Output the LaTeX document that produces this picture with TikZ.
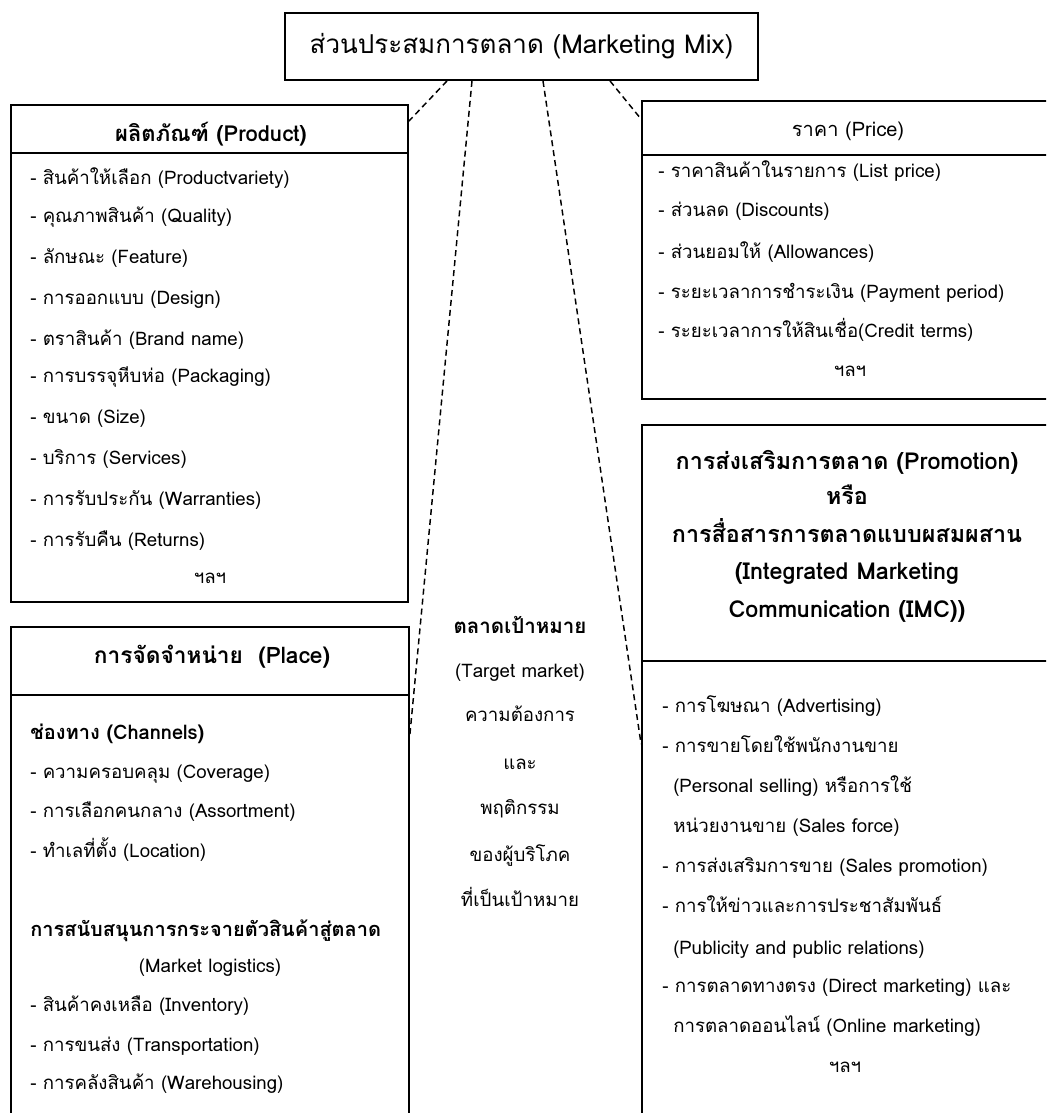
\documentclass[tikz,border=0pt]{standalone}
\usepackage{fontspec}
\setmainfont[Script=Thai]{Loma}
\usetikzlibrary{fit}

\newcommand{\pxu}{0.75pt}

\tikzset{
  box/.style={draw=black, line width=1.4pt, inner sep=0pt, fill=none},
  divider/.style={draw=black, line width=1.4pt},
  link/.style={draw=black, line width=1.1pt, dash pattern=on 4.5pt off 3pt},
  item/.style={anchor=west, inner sep=0pt, text height=1.6ex, text depth=0.4ex, font=\fontsize{14}{16}\selectfont},
  itemc/.style={item, anchor=center},
  head/.style={anchor=center, inner sep=0pt, text height=1.6ex, text depth=0.4ex, font=\fontsize{17.5}{20}\selectfont\bfseries},
  subhead/.style={item, font=\fontsize{15}{17}\selectfont\bfseries},
}

\begin{document}
\begin{tikzpicture}[x=0.75pt, y=-0.75pt]
\useasboundingbox (0,0) rectangle (1046,1113);
\clip (0,0) rectangle (1046,1113);
\fill[white] (0,0) rectangle (1046,1113);

% central title box
\node[box, minimum width={473*\pxu}, minimum height={67*\pxu},
      font=\fontsize{19.5}{22}\selectfont] (mix) at (521.5,46.5)
      {ส่วนประสมการตลาด (Marketing Mix)};

% the four P boxes (right and bottom ones run off the page)
\node[box, fit={(11,105) (408,602)}] (product) {};
\node[box, fit={(642,101) (1070,399)}] (price) {};
\node[box, fit={(642,425) (1070,1130)}] (promo) {};
\node[box, fit={(11,627) (409,1130)}] (place) {};

% header dividers
\draw[divider] (11,153) -- (408,153);
\draw[divider] (642,155) -- (1070,155);
\draw[divider] (642,661) -- (1070,661);
\draw[divider] (11,695) -- (409,695);

% dashed connectors from the marketing mix
\draw[link] ([xshift={-74.5*\pxu}]mix.south) -- ([yshift={-17*\pxu}]product.north east);
\draw[link] ([xshift={-49.5*\pxu}]mix.south) -- ([yshift={-108*\pxu}]place.north east);
\draw[link] ([xshift={21.5*\pxu}]mix.south) -- ([yshift={-320*\pxu}]promo.north west);
\draw[link] ([xshift={88.5*\pxu}]mix.south) -- ([yshift={-19*\pxu}]price.north west);

% Product
\node[head, font=\fontsize{16.5}{19}\selectfont\bfseries] (prodT) at (211,137) {ผลิตภัณฑ์ (Product)};
\node[item] (pr1) at (30,180) {- สินค้าให้เลือก (Productvariety)};
\node[item] (pr2) at (30,218) {- คุณภาพสินค้า (Quality)};
\node[item] (pr3) at (30,259) {- ลักษณะ (Feature)};
\node[item] (pr4) at (30,300) {- การออกแบบ (Design)};
\node[item] (pr5) at (30,341) {- ตราสินค้า (Brand name)};
\node[item] (pr6) at (30,378) {- การบรรจุหีบห่อ (Packaging)};
\node[item] (pr7) at (30,419) {- ขนาด (Size)};
\node[item] (pr8) at (30,460) {- บริการ (Services)};
\node[item] (pr9) at (30,501) {- การรับประกัน (Warranties)};
\node[item] (pr10) at (30,542) {- การรับคืน (Returns)};
\node[itemc] (prEtc) at (210,579) {ฯลฯ};

% Price
\node[head, font=\fontsize{15}{17}\selectfont] (priceT) at (848,132) {ราคา (Price)};
\node[item] (pc1) at (658,173) {- ราคาสินค้าในรายการ (List price)};
\node[item] (pc2) at (658,212) {- ส่วนลด (Discounts)};
\node[item] (pc3) at (658,254) {- ส่วนยอมให้ (Allowances)};
\node[item] (pc4) at (658,294) {- ระยะเวลาการชำระเงิน (Payment period)};
\node[item] (pc5) at (658,333) {- ระยะเวลาการให้สินเชื่อ(Credit terms)};
\node[itemc] (pcEtc) at (850,372) {ฯลฯ};

% Promotion
\node[head] (promoT1) at (847,465) {การส่งเสริมการตลาด (Promotion)};
\node[head] (promoT2) at (847,500) {หรือ};
\node[head] (promoT3) at (847,538) {การสื่อสารการตลาดแบบผสมผสาน};
\node[head] (promoT4) at (847,575) {(Integrated Marketing};
\node[head] (promoT5) at (847,613) {Communication (IMC))};
\node[item] (pm1) at (662,708) {- การโฆษณา (Advertising)};
\node[item] (pm2) at (662,748) {- การขายโดยใช้พนักงานขาย};
\node[item] (pm3) at (673,788) {(Personal selling) หรือการใช้};
\node[item] (pm4) at (673,828) {หน่วยงานขาย (Sales force)};
\node[item] (pm5) at (662,868) {- การส่งเสริมการขาย (Sales promotion)};
\node[item] (pm6) at (662,908) {- การให้ข่าวและการประชาสัมพันธ์};
\node[item] (pm7) at (673,950) {(Publicity and public relations)};
\node[item] (pm8) at (662,988) {- การตลาดทางตรง (Direct marketing) และ};
\node[item] (pm9) at (673,1028) {การตลาดออนไลน์ (Online marketing)};
\node[itemc] (pmEtc) at (845,1068) {ฯลฯ};

% Place
\node[head, font=\fontsize{17}{19}\selectfont\bfseries] (placeT) at (212,659) {การจัดจำหน่าย~~(Place)};
\node[subhead] (pl0) at (30,735) {ช่องทาง (Channels)};
\node[item] (pl1) at (30,774) {- ความครอบคลุม (Coverage)};
\node[item] (pl2) at (30,813) {- การเลือกคนกลาง (Assortment)};
\node[item] (pl3) at (30,853) {- ทำเลที่ตั้ง (Location)};
\node[subhead] (pl4) at (30,932) {การสนับสนุนการกระจายตัวสินค้าสู่ตลาด};
\node[itemc] (pl5) at (210,968) {(Market logistics)};
\node[item] (pl6) at (30,1007) {- สินค้าคงเหลือ (Inventory)};
\node[item] (pl7) at (30,1047) {- การขนส่ง (Transportation)};
\node[item] (pl8) at (30,1085) {- การคลังสินค้า (Warehousing)};

% target market in the middle
\node[head, font=\fontsize{15.4}{17}\selectfont\bfseries] (tm1) at (520,629) {ตลาดเป้าหมาย};
\node[itemc] (tm2) at (520,673) {(Target market)};
\node[itemc] (tm3) at (520,717) {ความต้องการ};
\node[itemc] (tm4) at (520,765) {และ};
\node[itemc] (tm5) at (520,810) {พฤติกรรม};
\node[itemc] (tm6) at (520,857) {ของผู้บริโภค};
\node[itemc] (tm7) at (520,902) {ที่เป็นเป้าหมาย};
\end{tikzpicture}
\end{document}
